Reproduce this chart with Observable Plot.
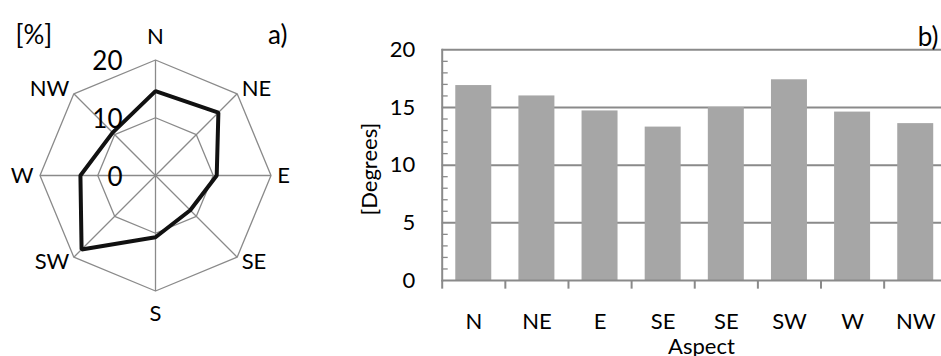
<!DOCTYPE html>
<html><head><meta charset="utf-8">
<script src="https://cdn.jsdelivr.net/npm/d3@7"></script>
<script src="https://cdn.jsdelivr.net/npm/@observablehq/plot@0.6"></script>
<style>
body{margin:0;background:#fff;}
#wrap{position:relative;width:941px;height:356px;overflow:hidden;font-family:Lato,sans-serif;}
#wrap svg{position:absolute;top:0;max-width:none;}
</style></head><body><div id="wrap"></div>
<script>
// ---- panel a) radar data ----
const directions = ["N","NE","E","SE","S","SW","W","NW"];
const frequency = [14.6, 15.4, 10.6, 8.5, 10.7, 18.1, 13.0, 10.5];
const ringValues = [10, 20];
const radarTicks = [0, 10, 20];

// ---- panel b) bar data ----
const aspects = ["N","NE","E","SE","SE","SW","W","NW"];
const slope = [16.9, 16.0, 14.7, 13.3, 15.0, 17.4, 14.6, 13.6];
const yTicks = [0, 5, 10, 15, 20];
const yMinor = d3.range(1, 20).filter(v => v % 5 !== 0);

const FONT = "Lato, sans-serif";
const GRAY = "#8a8a8a";
const FS = 22;   // label font size
const FS_BIG = 26;

// radar geometry (data units -> via Plot's x/y scales)
const angle = i => i * Math.PI / 4;
const pt = (v, i) => ({x: v * Math.sin(angle(i)), y: v * Math.cos(angle(i))});
const rings = ringValues.flatMap(r => directions.map((d, i) => ({ring: r, ...pt(r, i)})));
const spokes = directions.map((d, i) => ({d, i, ...pt(20, i)}));
const poly = frequency.map((v, i) => ({d: directions[i], ...pt(v, i)}));
const labels = directions.map((d, i) => ({d, s: Math.round(Math.sin(angle(i)) * 1000) / 1000, ...pt(21.1, i)}));

const radar = Plot.plot({
  width: 330, height: 356,
  marginLeft: 39.5, marginRight: 59.5, marginTop: 59.5, marginBottom: 65.5,
  x: {domain: [-20, 20], axis: null},
  y: {domain: [-20, 20], axis: null},
  style: {fontFamily: FONT, background: "transparent", color: "#000"},
  marks: [
    Plot.link(spokes, {x1: 0, y1: 0, x2: "x", y2: "y", stroke: GRAY, strokeWidth: 1.3}),
    Plot.line(rings, {x: "x", y: "y", z: "ring", curve: "linear-closed", stroke: GRAY, strokeWidth: 1.3}),
    Plot.line(poly, {x: "x", y: "y", curve: "linear-closed", stroke: "#111", strokeWidth: 4, strokeLinejoin: "miter"}),
    Plot.text(radarTicks, {x: 0, y: d => d, text: d => String(d), textAnchor: "end", lineAnchor: "middle", dx: -33, dy: 2, fontSize: FS_BIG, fill: "#000"}),
    Plot.text(labels.filter(l => l.s > 0), {x: "x", y: "y", text: "d", textAnchor: "start", lineAnchor: "middle", fontSize: FS, fill: "#000"}),
    Plot.text(labels.filter(l => l.s < 0), {x: "x", y: "y", text: "d", textAnchor: "end", lineAnchor: "middle", fontSize: FS, fill: "#000"}),
    Plot.text(spokes.filter(s => s.i === 0), {x: "x", y: "y", text: "d", lineAnchor: "middle", dy: -23.5, fontSize: FS, fill: "#000"}),
    Plot.text(spokes.filter(s => s.i === 4), {x: "x", y: "y", text: "d", lineAnchor: "middle", dy: 23, fontSize: FS, fill: "#000"}),
    Plot.text(["[%]"], {frameAnchor: "top-left", textAnchor: "start", lineAnchor: "middle", dx: -24.5, dy: -24.5, fontSize: FS_BIG, fill: "#000"}),
    Plot.text(["a)"], {frameAnchor: "top-right", textAnchor: "end", lineAnchor: "middle", dx: 16.5, dy: -24, fontSize: FS_BIG, fill: "#000"})
  ]
});
radar.style.left = "0px";

// bar panel
const barData = aspects.map((a, i) => ({i, a, v: slope[i]}));
const pad = 0.215;
const bx0 = 441.7 - 330, bx1 = 946.8 - 330;
const bars = Plot.plot({
  width: 611, height: 356,
  marginLeft: bx0, marginRight: 0, marginTop: 49.3, marginBottom: 76,
  x: {type: "linear", domain: [0, aspects.length], range: [bx0, bx1], axis: null},
  y: {domain: [0, 20], axis: null},
  style: {fontFamily: FONT, background: "transparent", color: "#000"},
  marks: [
    Plot.ruleY(yTicks.filter(v => v > 0), {y: d => d, stroke: GRAY, strokeWidth: 2}),
    Plot.rectY(barData, {x1: d => d.i + pad, x2: d => d.i + 1 - pad, y: "v", fill: "#a6a6a6"}),
    Plot.ruleY([0], {stroke: GRAY, strokeWidth: 2}),
    Plot.frame({anchor: "left", stroke: GRAY, strokeWidth: 2}),
    Plot.axisY({ticks: yMinor, tickSize: 6, dx: 6, tickFormat: () => "", label: null, stroke: GRAY, strokeWidth: 1.3}),
    Plot.axisY({ticks: yTicks, tickSize: 0, tickPadding: 27, label: null, fontSize: FS, fill: "#000"}),
    Plot.ruleX(d3.range(aspects.length + 1), {x: d => d, y1: 0, y2: -0.75, stroke: GRAY, strokeWidth: 2}),
    Plot.axisX({ticks: d3.range(aspects.length).map(i => i + 0.5), tickSize: 0, tickPadding: 33, label: null, tickFormat: v => aspects[Math.floor(v)], fontSize: FS, fill: "#000"}),
    Plot.text(["[Degrees]"], {frameAnchor: "left", rotate: -90, textAnchor: "middle", lineAnchor: "middle", dx: -72.7, dy: 4, fontSize: FS, fill: "#000"}),
    Plot.text(["Aspect"], {frameAnchor: "bottom", textAnchor: "middle", lineAnchor: "middle", dx: 9.6, dy: 66, fontSize: FS, fill: "#000"}),
    Plot.text(["b)"], {frameAnchor: "top-right", textAnchor: "end", lineAnchor: "middle", dx: -3, dy: -12.3, fontSize: FS_BIG, fill: "#000"})
  ]
});
bars.style.left = "330px";

const wrap = document.getElementById("wrap");
wrap.appendChild(radar);
wrap.appendChild(bars);
</script>
</body></html>
